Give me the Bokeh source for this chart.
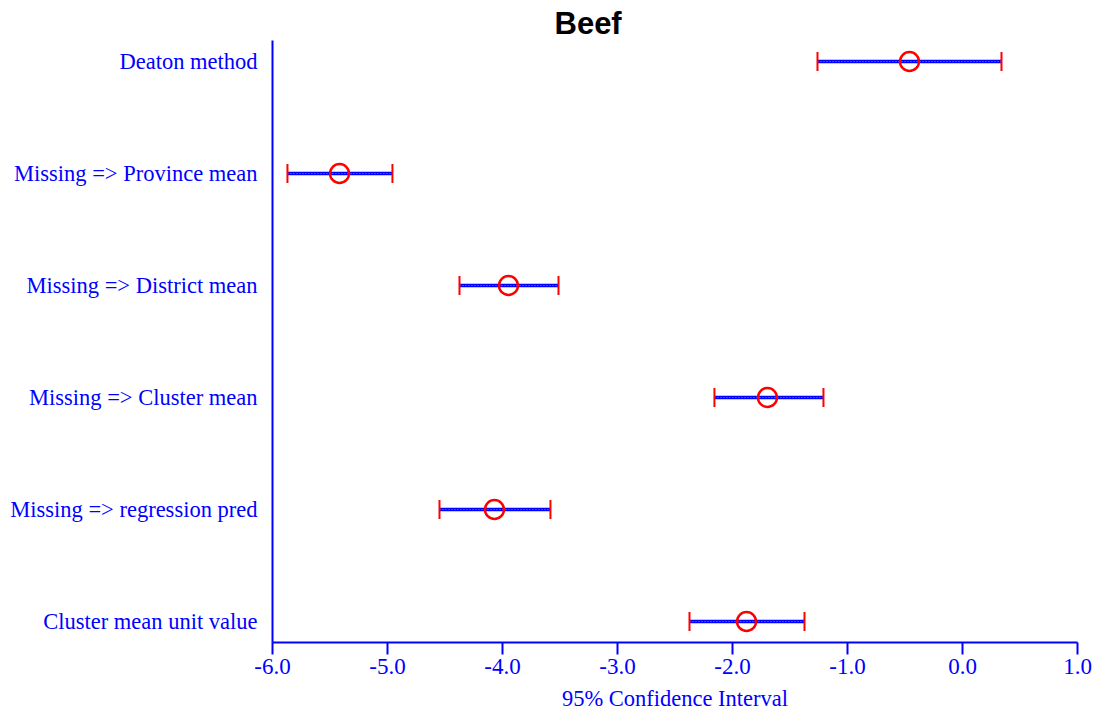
from bokeh.plotting import figure
from bokeh.models import Range1d, FixedTicker
from bokeh.embed import file_html
from bokeh.resources import INLINE

# Data (bottom to top)
categories = [
    "Cluster mean unit value",
    "Missing => regression pred",
    "Missing => Cluster mean",
    "Missing => District mean",
    "Missing => Province mean",
    "Deaton method",
]
estimates = [-1.878, -4.070, -1.696, -3.948, -5.417, -0.461]
lower = [-2.374, -4.548, -2.157, -4.374, -5.870, -1.261]
upper = [-1.374, -3.583, -1.209, -3.513, -4.957, 0.339]
x_ticks = [-6.0, -5.0, -4.0, -3.0, -2.0, -1.0, 0.0, 1.0]
x_tick_labels = ["-6.0", "-5.0", "-4.0", "-3.0", "-2.0", "-1.0", "0.0", "1.0"]
title_text = "Beef"
x_label = "95% Confidence Interval"

ypos = list(range(len(categories)))

BLUE = "#0000ff"
RED = "#ff0000"
SERIF = "Liberation Serif"

p = figure(
    frame_width=805, frame_height=602,
    x_range=Range1d(-6.0, 1.0), y_range=Range1d(-0.1875, len(categories) - 1 + 0.1875),
    output_backend="svg", toolbar_location=None,
    min_border_left=272, min_border_top=40, min_border_right=20, min_border_bottom=8,
)
p.outline_line_color = None
p.xgrid.visible = False
p.ygrid.visible = False
p.background_fill_color = "white"
p.border_fill_color = "white"

# title
p.title.text = title_text
p.title.align = "left"
p.title.offset = 282
p.title.standoff = 0
p.title.text_font = "Liberation Sans"
p.title.text_font_style = "bold"
p.title.text_font_size = "31px"
p.title.text_color = "black"

# x axis
xa = p.xaxis[0]
xa.ticker = FixedTicker(ticks=x_ticks)
xa.major_label_overrides = {t: l for t, l in zip(x_ticks, x_tick_labels)}
xa.axis_line_color = BLUE
xa.axis_line_width = 2
xa.major_tick_line_color = BLUE
xa.major_tick_line_width = 2
xa.major_tick_in = 0
xa.major_tick_out = 12
xa.minor_tick_line_color = None
xa.major_label_text_color = BLUE
xa.major_label_text_font = SERIF
xa.major_label_text_font_size = "23px"
xa.major_label_standoff = 4
xa.axis_label = x_label
xa.axis_label_text_color = BLUE
xa.axis_label_text_font = SERIF
xa.axis_label_text_font_size = "22.5px"
xa.axis_label_text_font_style = "normal"
xa.axis_label_standoff = 9

# y axis
ya = p.yaxis[0]
ya.ticker = FixedTicker(ticks=ypos)
ya.major_label_overrides = {i: c for i, c in zip(ypos, categories)}
ya.axis_line_color = BLUE
ya.axis_line_width = 2
ya.major_tick_line_color = None
ya.major_tick_in = 0
ya.major_tick_out = 0
ya.minor_tick_line_color = None
ya.major_label_text_color = BLUE
ya.major_label_text_font = SERIF
ya.major_label_text_font_size = "22.5px"
ya.major_label_standoff = 15

# error bars
p.segment(x0=lower, y0=ypos, x1=upper, y1=ypos, line_color=BLUE, line_width=3.5)
p.segment(x0=lower, y0=ypos, x1=upper, y1=ypos, line_color="#8080ff", line_width=1, line_dash="1 2")
p.scatter(x=lower, y=ypos, marker="dash", angle=1.5708, size=19, line_color=RED, line_width=2)
p.scatter(x=upper, y=ypos, marker="dash", angle=1.5708, size=19, line_color=RED, line_width=2)
p.scatter(x=estimates, y=ypos, marker="circle", size=19, fill_color=None, line_color=RED, line_width=2.5)

open("out.html", "w").write(file_html(p, INLINE))
